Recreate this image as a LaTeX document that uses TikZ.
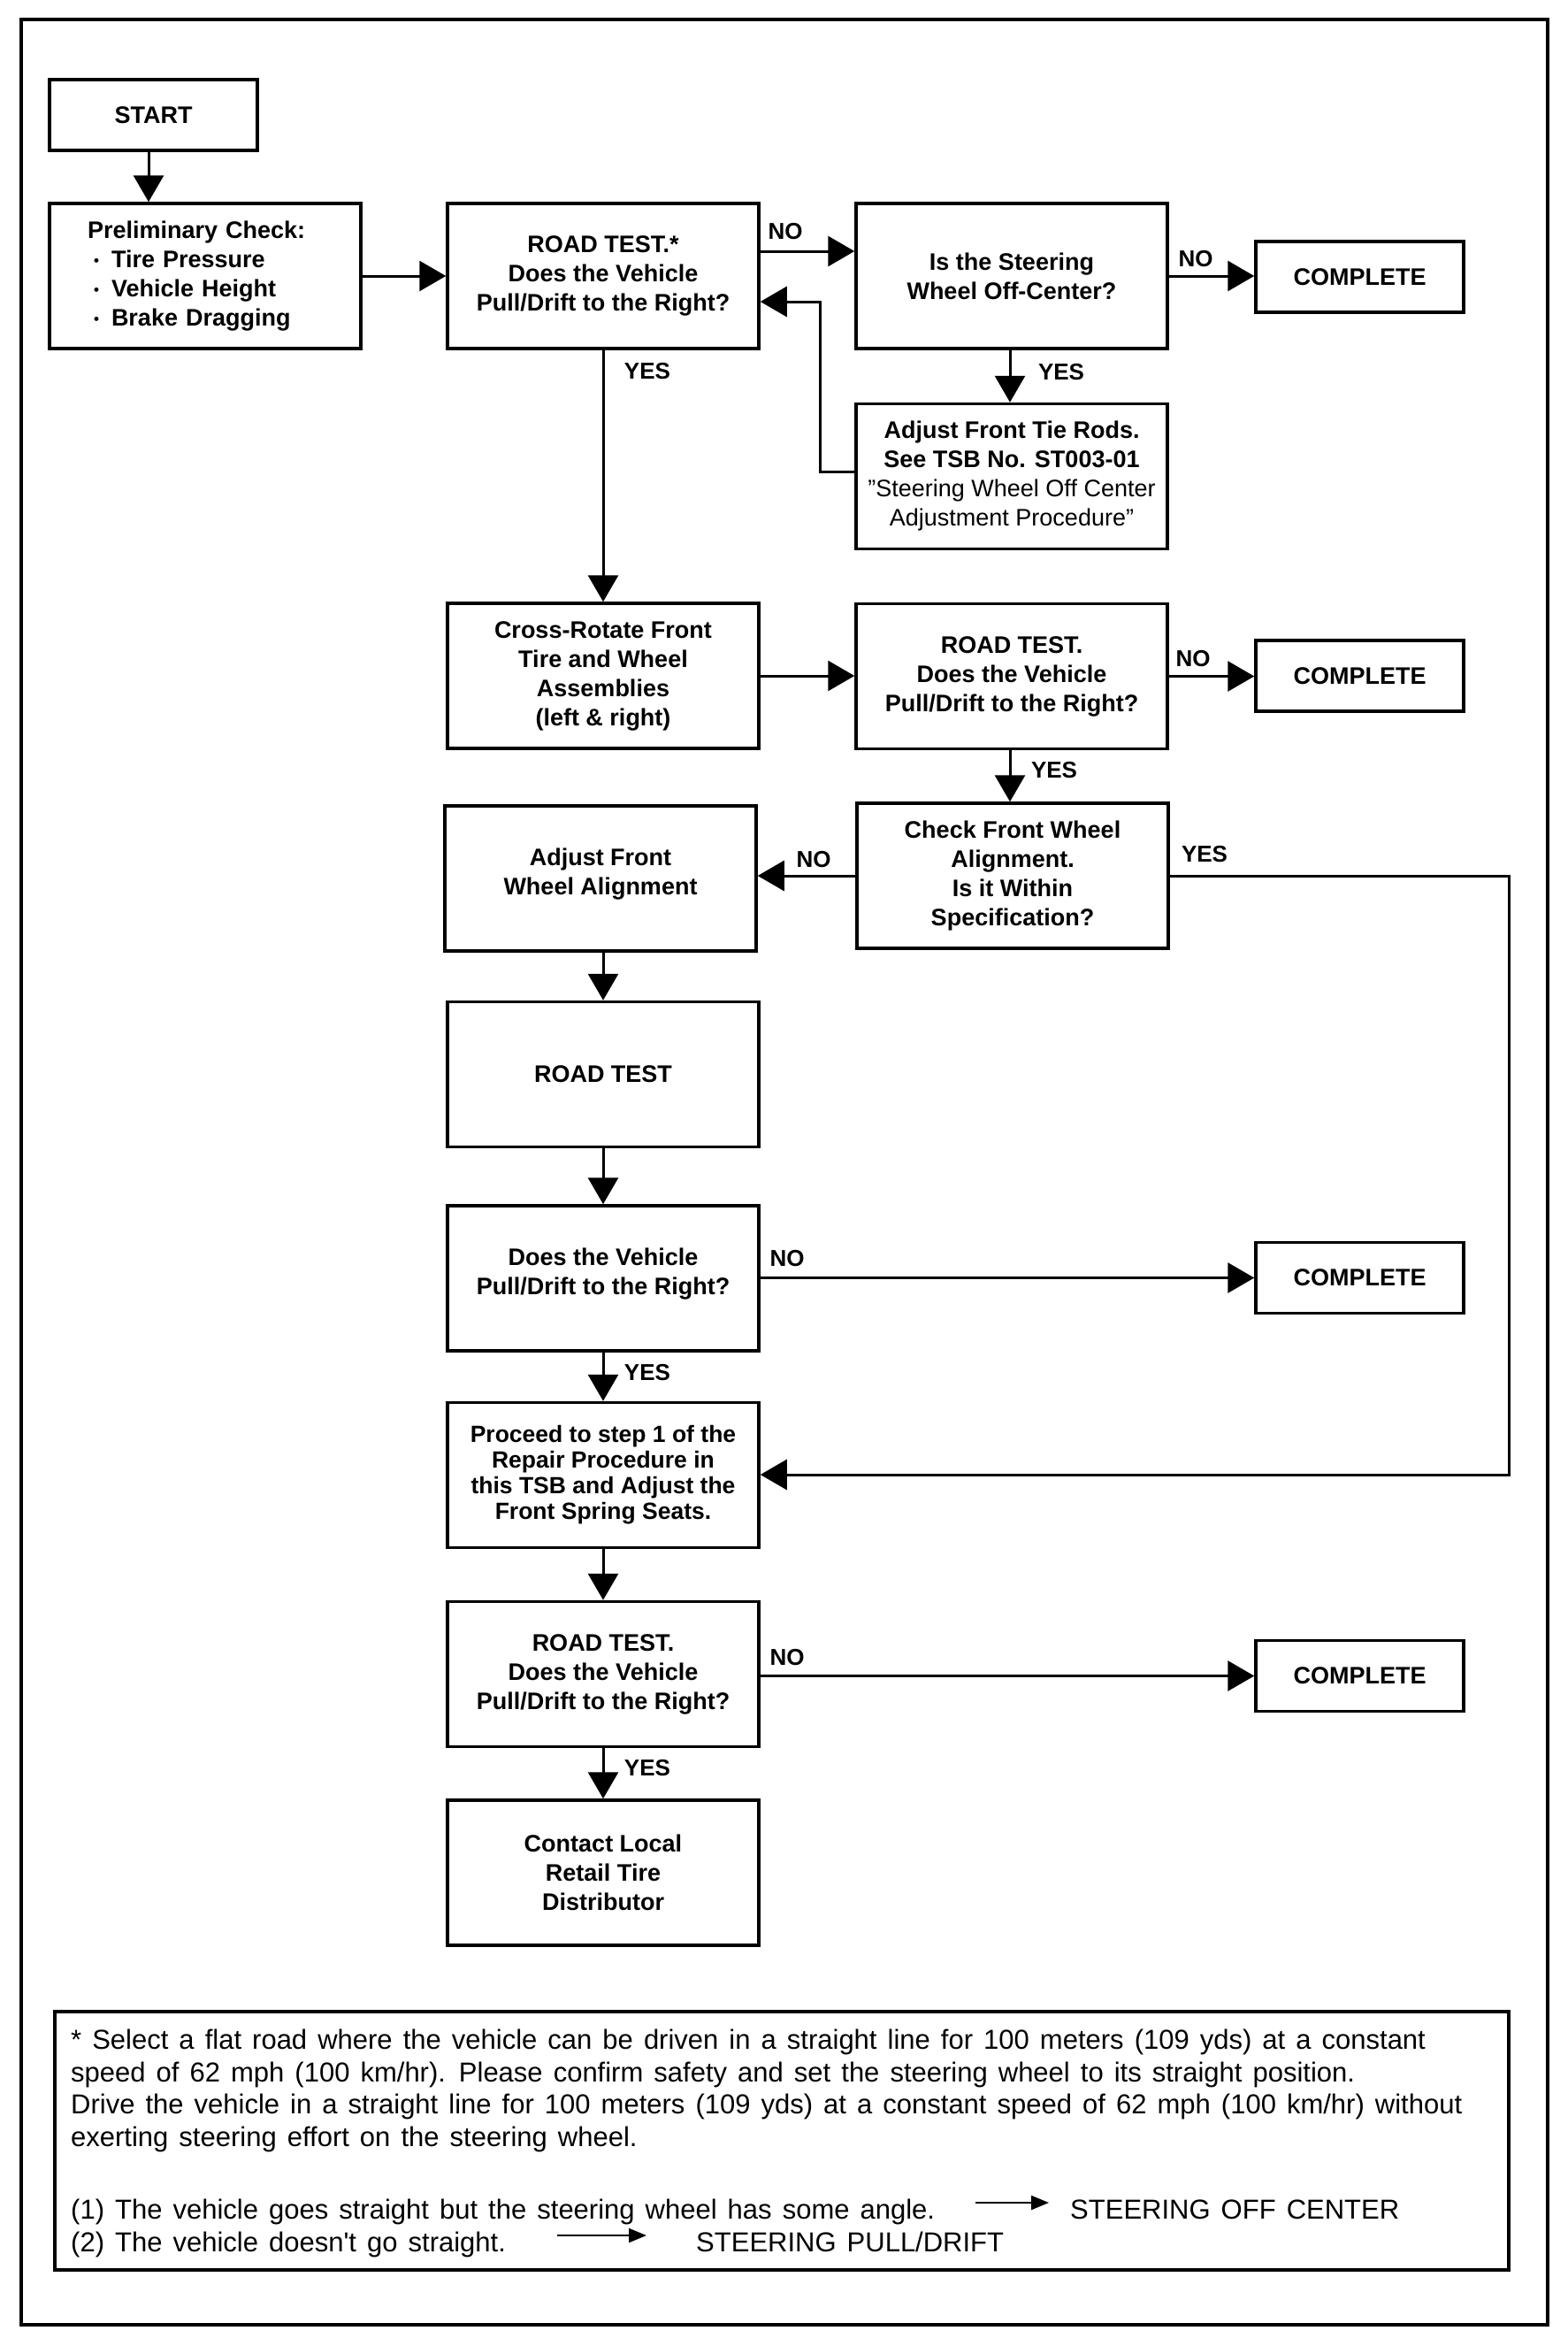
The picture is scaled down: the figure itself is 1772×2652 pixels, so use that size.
\documentclass[tikz,border=0pt]{standalone}
\usepackage{fontspec}
\setmainfont{Liberation Sans}
\newfontfamily\fnfont[WordSpace=1.4]{Liberation Sans}
\usetikzlibrary{arrows.meta}
\newcommand\mybul{\makebox[27pt][l]{\hspace*{7pt}\raisebox{2pt}{\fontsize{17}{17}\selectfont •}}}
\begin{document}
\begin{tikzpicture}[x=1pt,y=-1pt,
  box/.style={draw, line width=3.5pt, minimum width=352pt, minimum height=164pt, inner sep=0pt, align=center, font=\bfseries\fontsize{27}{33}\selectfont},
  sbox/.style={box, minimum width=235pt, minimum height=80pt},
  lbl/.style={font=\bfseries\fontsize{26}{30}\selectfont, inner sep=0pt},
  conn/.style={line width=3pt, -{Triangle[width=34pt,length=30pt]}},
  fn/.style={font=\fnfont\fontsize{31}{36.5}\selectfont, inner sep=0pt, anchor=base west, align=left},
  fnarr/.style={line width=2pt, -{Triangle[width=16pt,length=20pt]}}]

\useasboundingbox (0,0) rectangle (1772,2652);
\draw[line width=3.5pt] (24,22) rectangle (1750,2628);

% boxes
\node[sbox] (start) at (173.5,130) {START};
\node[box, align=left, text width=266pt, inner xsep=43pt] (prelim) at (232,312)
  {Preliminary Check:\\ \mybul Tire Pressure\\ \mybul Vehicle Height\\ \mybul Brake Dragging};
\node[box] (road1) at (682,312) {ROAD TEST.*\\ Does the Vehicle\\ Pull/Drift to the Right?};
\node[box] (steer) at (1144,312) {Is the Steering\\ Wheel Off-Center?};
\node[sbox] (comp1) at (1537.5,313) {COMPLETE};
\node[box] (tie) at (1144,538.5) {Adjust Front Tie Rods.\\ See TSB No. ST003-01\\ {\mdseries "Steering Wheel Off Center}\\ {\mdseries Adjustment Procedure"}};
\node[box] (cross) at (682,764) {Cross-Rotate Front\\ Tire and Wheel\\ Assemblies\\ (left \& right)};
\node[box] (rt2) at (1144,764.5) {ROAD TEST.\\ Does the Vehicle\\ Pull/Drift to the Right?};
\node[sbox] (comp2) at (1537.5,764) {COMPLETE};
\node[box] (check) at (1145,990) {Check Front Wheel\\ Alignment.\\ Is it Within\\ Specification?};
\node[box] (adjal) at (679,993) {Adjust Front\\ Wheel Alignment\\[-17pt]\mbox{}};
\node[box] (rt3) at (682,1214.5) {ROAD TEST};
\node[box] (does) at (682,1445) {Does the Vehicle\\ Pull/Drift to the Right?\\[-17pt]\mbox{}};
\node[sbox] (comp3) at (1537.5,1444.5) {COMPLETE};
\node[box, font=\bfseries\fontsize{26.5}{29}\selectfont] (proceed) at (682,1667.5) {Proceed to step 1 of the\\ Repair Procedure in\\ this TSB and Adjust the\\ Front Spring Seats.};
\node[box] (rt4) at (682,1892.5) {ROAD TEST.\\ Does the Vehicle\\ Pull/Drift to the Right?};
\node[sbox] (comp4) at (1537.5,1894.5) {COMPLETE};
\node[box] (contact) at (682,2117) {Contact Local\\ Retail Tire\\ Distributor};

% helper coordinates
\coordinate (y284) at (0,284);
\coordinate (y533) at (0,533);
\coordinate (ret1) at (927,341);
\coordinate (ret2) at (1706,1667);

% connectors
\draw[conn] (start.south -| 168,0) -- (prelim.north -| 168,0);
\draw[conn] (prelim.east) -- (road1.west);
\draw[conn] (road1.east |- y284) -- (steer.west |- y284);
\draw[conn] (steer.east) -- (comp1.west |- steer.east);
\draw[conn] (steer.south -| 1142,0) -- (tie.north -| 1142,0);
\draw[conn] (tie.west |- y533) -| (ret1) -- (road1.east |- ret1);
\draw[conn] (road1.south) -- (cross.north);
\draw[conn] (cross.east) -- (rt2.west |- cross.east);
\draw[conn] (rt2.east) -- (comp2.west |- rt2.east);
\draw[conn] (rt2.south -| 1142,0) -- (check.north -| 1142,0);
\draw[conn] (check.west) -- (adjal.east |- check.west);
\draw[conn] (check.east) -| (ret2) -- (proceed.east |- ret2);
\draw[conn] (rt3.north |- adjal.south) -- (rt3.north);
\draw[conn] (rt3.south) -- (does.north);
\draw[conn] (does.east |- comp3.west) -- (comp3.west);
\draw[conn] (does.south) -- (proceed.north);
\draw[conn] (proceed.south) -- (rt4.north);
\draw[conn] (rt4.east |- comp4.west) -- (comp4.west);
\draw[conn] (rt4.south) -- (contact.north);

% labels
\node[lbl] (l1) at (888,262) {NO};
\node[lbl] (l2) at (1352,293) {NO};
\node[lbl] (l3) at (1200,421) {YES};
\node[lbl] (l4) at (732,420) {YES};
\node[lbl] (l5) at (1349,745) {NO};
\node[lbl] (l6) at (1192,871) {YES};
\node[lbl] (l7) at (920,972) {NO};
\node[lbl] (l8) at (1362,966) {YES};
\node[lbl] (l9) at (890,1423) {NO};
\node[lbl] (l10) at (732,1552) {YES};
\node[lbl] (l11) at (890,1874) {NO};
\node[lbl] (l12) at (732,1999) {YES};

% footnote
\node[draw, line width=3.5pt, minimum width=1644pt, minimum height=292pt, inner sep=0pt] (fnbox) at (884,2420) {};
\node[fn] (fntext) at (80,2426) {* Select a flat road where the vehicle can be driven in a straight line for 100 meters (109 yds) at a constant\\ speed of 62 mph (100 km/hr). Please confirm safety and set the steering wheel to its straight position.\\ Drive the vehicle in a straight line for 100 meters (109 yds) at a constant speed of 62 mph (100 km/hr) without\\ exerting steering effort on the steering wheel.};
\node[fn] (i1) at (80,2508) {(1) The vehicle goes straight but the steering wheel has some angle.};
\node[fn] (soc) at (1210,2508) {STEERING OFF CENTER};
\node[fn] (i2) at (80,2545) {(2) The vehicle doesn't go straight.};
\node[fn] (spd) at (787,2545) {STEERING PULL/DRIFT};
\coordinate (a1) at (1103,2490);
\coordinate (a2) at (630,2527);
\draw[fnarr, shorten >=24pt] (a1) -- (soc.west |- a1);
\draw[fnarr, shorten >=56pt] (a2) -- (spd.west |- a2);
\end{tikzpicture}
\end{document}
